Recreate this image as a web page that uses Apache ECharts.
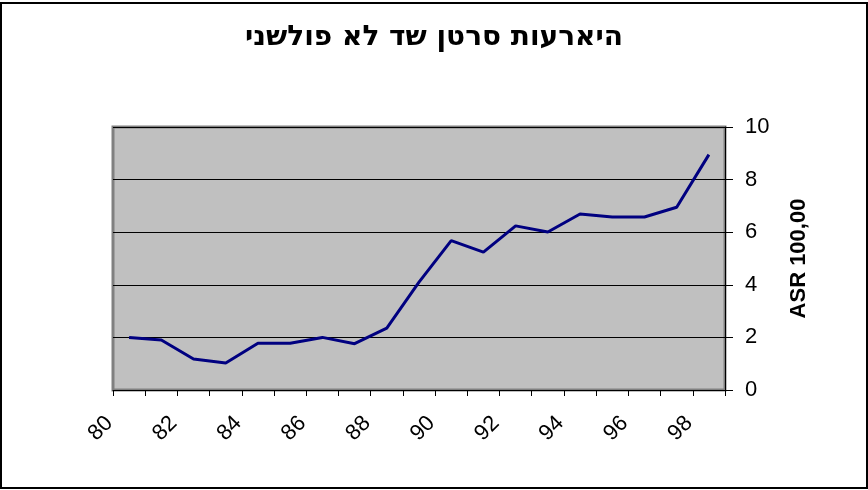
<!DOCTYPE html>
<html>
<head>
<meta charset="utf-8">
<script src="https://cdn.jsdelivr.net/npm/echarts@6/dist/echarts.min.js"></script>
<style>
html,body{margin:0;padding:0;background:#fff;}
#chart{width:868px;height:490px;}
</style>
</head>
<body>
<div id="chart"></div>
<script>
const titleText = 'היארעות סרטן שד לא פולשני';
const yAxisName = 'ASR 100,00';
const years = ['80','81','82','83','84','85','86','87','88','89','90','91','92','93','94','95','96','97','98'];
const asrValues = [2.0, 1.9, 1.18, 1.03, 1.78, 1.78, 2.0, 1.76, 2.35, 4.1, 5.68, 5.24, 6.24, 6.01, 6.69, 6.58, 6.58, 6.95, 8.95];

const chart = echarts.init(document.getElementById('chart'));
chart.setOption({
  animation: false,
  backgroundColor: '#ffffff',
  title: {
    text: titleText,
    left: 'center',
    top: 19,
    textStyle: {fontFamily: 'DejaVu Sans, sans-serif', fontSize: 28, fontWeight: 'bold', color: '#000'}
  },
  graphic: [{
    type: 'rect',
    shape: {x: 1, y: 3, width: 866, height: 485},
    style: {fill: 'none', stroke: '#000', lineWidth: 2},
    silent: true
  }],
  grid: {
    left: 113, right: 143, top: 127, bottom: 100,
    show: true,
    backgroundColor: '#C0C0C0',
    borderColor: '#808080',
    borderWidth: 3
  },
  xAxis: {
    type: 'category',
    data: years,
    boundaryGap: true,
    axisLine: {lineStyle: {color: '#000', width: 1}},
    axisTick: {show: true, interval: 0, length: 6, lineStyle: {color: '#000'}},
    axisLabel: {
      interval: 1,
      rotate: 45,
      margin: 10,
      padding: [0, 28, 0, 0],
      fontFamily: 'Liberation Sans, Arial, sans-serif',
      fontSize: 22,
      color: '#000'
    }
  },
  yAxis: {
    type: 'value',
    position: 'right',
    min: 0, max: 10, interval: 2,
    name: yAxisName,
    nameLocation: 'middle',
    nameRotate: 90,
    nameGap: 63,
    nameTextStyle: {fontFamily: 'Liberation Sans, Arial, sans-serif', fontSize: 22, fontWeight: 'bold', color: '#000'},
    axisLine: {show: true, lineStyle: {color: '#000', width: 1}},
    axisTick: {show: true, length: 8, lineStyle: {color: '#000'}},
    axisLabel: {margin: 20, fontFamily: 'Liberation Sans, Arial, sans-serif', fontSize: 22, color: '#000'},
    splitLine: {show: true, lineStyle: {color: '#000', width: 1}}
  },
  series: [{
    type: 'line',
    data: asrValues,
    showSymbol: false,
    symbol: 'none',
    lineStyle: {color: '#000080', width: 3},
    itemStyle: {color: '#000080'}
  }]
});
</script>
</body>
</html>
